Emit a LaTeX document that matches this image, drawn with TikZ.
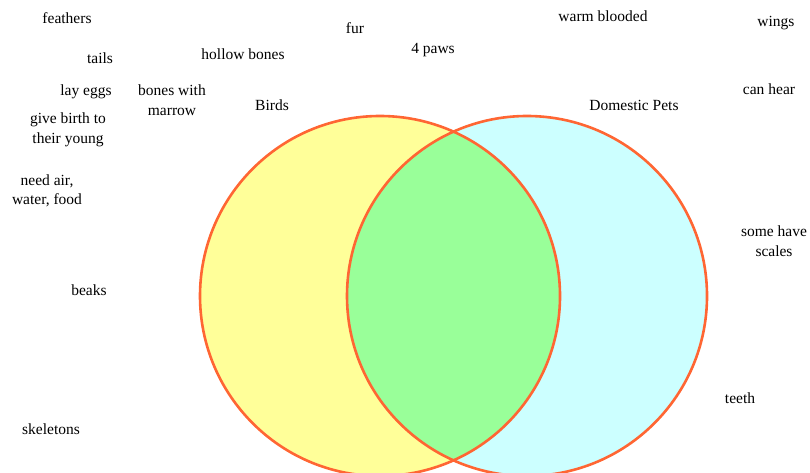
\documentclass[tikz,border=0pt]{standalone}
\usepackage{fontspec}
\setmainfont{Liberation Serif}
\definecolor{ringcol}{HTML}{FF6633}
\definecolor{birdfill}{HTML}{FFFF99}
\definecolor{petfill}{HTML}{CCFFFF}
\definecolor{bothfill}{HTML}{99FF99}
\begin{document}
\begin{tikzpicture}[x=1pt,y=-1pt,
  lbl/.style={inner sep=0pt,align=center,font=\fontsize{15.5}{19.5}\selectfont},
  ring/.style={draw=ringcol,line width=2.6pt}]
\useasboundingbox (0,0) rectangle (810,473);
% circles
\fill[birdfill] (380,296) circle (180);
\fill[petfill] (527,296) circle (180);
\begin{scope}
  \clip (380,296) circle (180);
  \fill[bothfill] (527,296) circle (180);
\end{scope}
\node[ring,circle,minimum size=360pt,inner sep=0pt] (birds) at (380,296) {};
\node[ring,circle,minimum size=360pt,inner sep=0pt] (pets) at (527,296) {};
% labels
\node[lbl] (tb) at (272,105) {Birds};
\node[lbl] (tp) at (634,105) {Domestic Pets};
\node[lbl] (t1) at (67,18) {feathers};
\node[lbl] (t2) at (100,58) {tails};
\node[lbl] (t3) at (243,54) {hollow bones};
\node[lbl] (t4) at (86,92) {lay eggs};
\node[lbl] (t5) at (172,100) {bones with\\marrow};
\node[lbl] (t6) at (68,130) {give birth to\\their young};
\node[lbl] (t7) at (47,191) {need air,\\water, food};
\node[lbl] (t8) at (355,28) {fur};
\node[lbl] (t9) at (433,50) {4 paws};
\node[lbl] (t10) at (603,16) {warm blooded};
\node[lbl] (t11) at (776,23) {wings};
\node[lbl] (t12) at (769,89) {can hear};
\node[lbl] (t13) at (774,241) {some have\\scales};
\node[lbl] (t14) at (740,398) {teeth};
\node[lbl] (t15) at (89,290) {beaks};
\node[lbl] (t16) at (51,429) {skeletons};
\end{tikzpicture}
\end{document}
